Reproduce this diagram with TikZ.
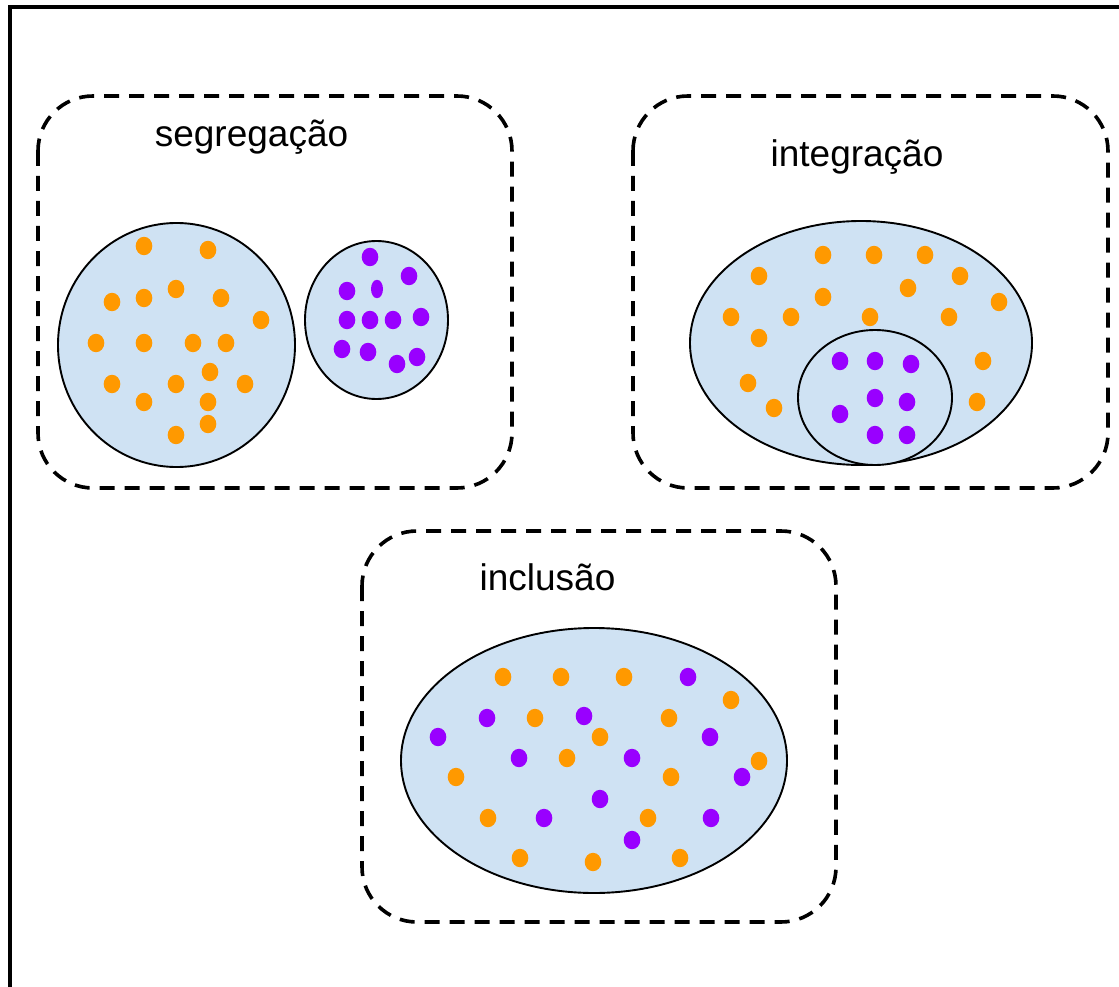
\documentclass[tikz,border=0pt]{standalone}
\usepackage{fontspec}
\setmainfont{Liberation Sans}
\definecolor{dotorange}{HTML}{FF9900}
\definecolor{dotpurple}{HTML}{9900FF}
\definecolor{setblue}{HTML}{CFE2F3}
\begin{document}
\begin{tikzpicture}[x=1pt,y=-1pt,
  groupbox/.style={draw=black,line width=3.6pt,dash pattern=on 15pt off 10pt,rounded corners=55pt},
  setshape/.style={draw=black,line width=1.9pt,fill=setblue},
  od/.style={fill=dotorange},
  pd/.style={fill=dotpurple},
  lbl/.style={font=\fontsize{37}{40}\selectfont,anchor=base,inner sep=0pt}]
\useasboundingbox (0,0) rectangle (1119,987);
% frame
\draw[line width=4pt] (9.5,987) -- (9.5,7.5) -- (1119,7.5);
% dashed group boxes
\draw[groupbox] (38,96) rectangle (512,488);
\draw[groupbox] (633,96) rectangle (1108,488);
\draw[groupbox] (362,531) rectangle (836,922);
% labels
\node[lbl] (lseg) at (251.5,147) {segregação};
\node[lbl] (lint) at (857,167) {integração};
\node[lbl] (linc) at (547.5,590) {inclusão};
% segregation sets
\draw[setshape] (176.5,345) ellipse [x radius=118.5,y radius=122];
\draw[setshape] (376.5,320) ellipse [x radius=71.5,y radius=79];
\foreach \p in {(144,246),(208,250),(112,302),(144,298),(176,289),(221,298),(261,320),(96,343),(144,343),(193,343),(226,343),(210,372),(112,384),(176,384),(245,384),(144,402),(208,402),(208,424),(176,435)}
  \fill[od] \p ellipse [x radius=8.3,y radius=9.2];
\foreach \p in {(370,257),(409,276),(347,291),(347,320),(370,320),(393,320),(421,317),(342,349),(368,352),(397,364),(417,357)}
  \fill[pd] \p ellipse [x radius=8.3,y radius=9.2];
\fill[pd] (377,289) ellipse [x radius=6,y radius=9.2];
% integration sets
\draw[setshape] (861,343) ellipse [x radius=171,y radius=122];
\draw[setshape] (875,397.5) ellipse [x radius=77,y radius=67.5];
\foreach \p in {(823,255),(874,255),(925,255),(759,276),(960,276),(823,297),(908,288),(999,302),(731,317),(791,317),(870,317),(949,317),(759,338),(983,361),(748,383),(774,408),(977,402)}
  \fill[od] \p ellipse [x radius=8.3,y radius=9.2];
\foreach \p in {(840,361),(875,361),(911,364),(875,398),(907,402),(840,414),(875,435),(907,435)}
  \fill[pd] \p ellipse [x radius=8.3,y radius=9.2];
% inclusion set
\draw[setshape] (594,760.5) ellipse [x radius=193,y radius=132.5];
\foreach \p in {(503,677),(561,677),(624,677),(731,700),(535,718),(669,718),(600,737),(567,758),(759,761),(456,777),(671,777),(488,818),(648,818),(520,858),(593,862),(680,858)}
  \fill[od] \p ellipse [x radius=8.3,y radius=9.2];
\foreach \p in {(688,677),(487,718),(584,716),(438,737),(710,737),(519,758),(632,758),(742,777),(600,799),(544,818),(711,818),(632,840)}
  \fill[pd] \p ellipse [x radius=8.3,y radius=9.2];
\end{tikzpicture}
\end{document}
